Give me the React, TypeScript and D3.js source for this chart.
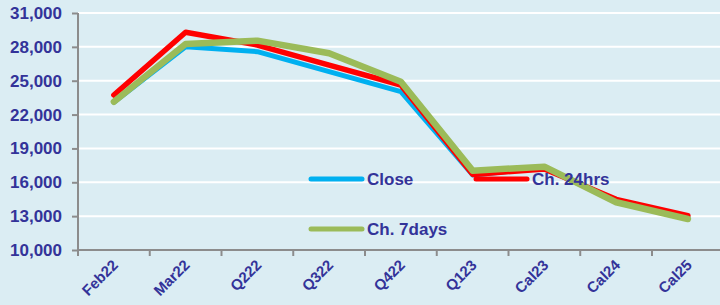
// @ts-nocheck
import React, { useEffect, useRef } from "react"
import * as d3 from "d3"

const categories = ["Feb22", "Mar22", "Q222", "Q322", "Q422", "Q123", "Cal23", "Cal24", "Cal25"]
const closeValues = [23100, 28000, 27570, 25800, 24030, 16650, 17300, 14400, 12900]
const ch24Values = [23730, 29290, 28160, 26390, 24620, 16700, 17180, 14490, 13040]
const ch7Values = [23140, 28250, 28550, 27430, 24910, 17030, 17380, 14230, 12750]
const yTicks = [10000, 13000, 16000, 19000, 22000, 25000, 28000, 31000]

const series = [
  { name: "Close", values: closeValues, color: "#00b0f0", width: 5 },
  { name: "Ch. 24hrs", values: ch24Values, color: "#ff0000", width: 5.5 },
  { name: "Ch. 7days", values: ch7Values, color: "#9bbb59", width: 6.5 }
]

const width = 720
const height = 305
const marginLeft = 78
const bandW = 71.75
const textColor = "#333399"

export default function App() {
  const ref = useRef(null)

  useEffect(() => {
    const svg = d3.select(ref.current)
    svg.selectAll("*").remove()

    const x = d3.scaleBand().domain(categories).range([marginLeft, marginLeft + bandW * categories.length])
    const y = d3.scaleLinear().domain([10000, 31000]).range([250, 13])

    svg.append("rect").attr("width", width).attr("height", height).attr("fill", "#dbedf3")

    // gridlines
    svg.append("g")
      .selectAll("line")
      .data(yTicks.slice(1))
      .join("line")
      .attr("x1", marginLeft)
      .attr("x2", width)
      .attr("y1", d => y(d))
      .attr("y2", d => y(d))
      .attr("stroke", "#fff")
      .attr("stroke-width", 2)

    // y axis
    svg.append("g")
      .attr("transform", `translate(${marginLeft},0)`)
      .call(d3.axisLeft(y).tickValues(yTicks).tickFormat(d3.format(",")).tickSize(6).tickPadding(10))
      .call(g => g.select(".domain").attr("stroke", "#8c8c8c").attr("stroke-width", 2).attr("d", `M0,${y(31000)}V${y(10000)}`))
      .call(g => g.selectAll(".tick line").attr("stroke", "#8c8c8c").attr("stroke-width", 2))
      .call(g => g.selectAll(".tick text")
        .attr("fill", textColor)
        .attr("font-family", "Liberation Sans, Arial, sans-serif")
        .attr("font-weight", "bold")
        .attr("font-size", 17))

    // x axis
    const xg = svg.append("g").attr("transform", `translate(0,${y(10000)})`)
    xg.append("line")
      .attr("x1", marginLeft).attr("x2", width)
      .attr("stroke", "#8c8c8c").attr("stroke-width", 2)
    xg.selectAll(".tk")
      .data(categories)
      .join("line")
      .attr("x1", d => x(d)).attr("x2", d => x(d))
      .attr("y1", 0).attr("y2", 6)
      .attr("stroke", "#8c8c8c").attr("stroke-width", 2)
    xg.selectAll("text")
      .data(categories)
      .join("text")
      .attr("transform", d => `translate(${x(d) + x.bandwidth() / 2 + 5},${16}) rotate(-45)`)
      .attr("text-anchor", "end")
      .attr("fill", textColor)
      .attr("font-family", "Liberation Sans, Arial, sans-serif")
      .attr("font-weight", "bold")
      .attr("font-size", 15)
      .text(d => d)

    const line = d3.line()
      .x((d, i) => x(categories[i]) + x.bandwidth() / 2)
      .y(d => y(d))

    svg.append("g")
      .selectAll("path")
      .data(series)
      .join("path")
      .attr("d", s => line(s.values))
      .attr("fill", "none")
      .attr("stroke", s => s.color)
      .attr("stroke-width", s => s.width)
      .attr("stroke-linejoin", "round")
      .attr("stroke-linecap", "round")

    // legend
    const legendPos = [
      { x: 311, y: 179 },
      { x: 476, y: 179 },
      { x: 311, y: 229 }
    ]
    const lg = svg.append("g")
      .selectAll("g")
      .data(series)
      .join("g")
      .attr("transform", (s, i) => `translate(${legendPos[i].x},${legendPos[i].y})`)
    lg.append("line")
      .attr("x1", 0).attr("x2", 51)
      .attr("stroke", s => s.color)
      .attr("stroke-width", 5)
      .attr("stroke-linecap", "round")
    lg.append("text")
      .attr("x", 56)
      .attr("y", 6)
      .attr("fill", textColor)
      .attr("font-family", "Liberation Sans, Arial, sans-serif")
      .attr("font-weight", "bold")
      .attr("font-size", 17)
      .text(s => s.name)
  }, [])

  return (
    <svg ref={ref} width={width} height={height} style={{ position: "absolute", left: 0, top: 0 }} />
  )
}
